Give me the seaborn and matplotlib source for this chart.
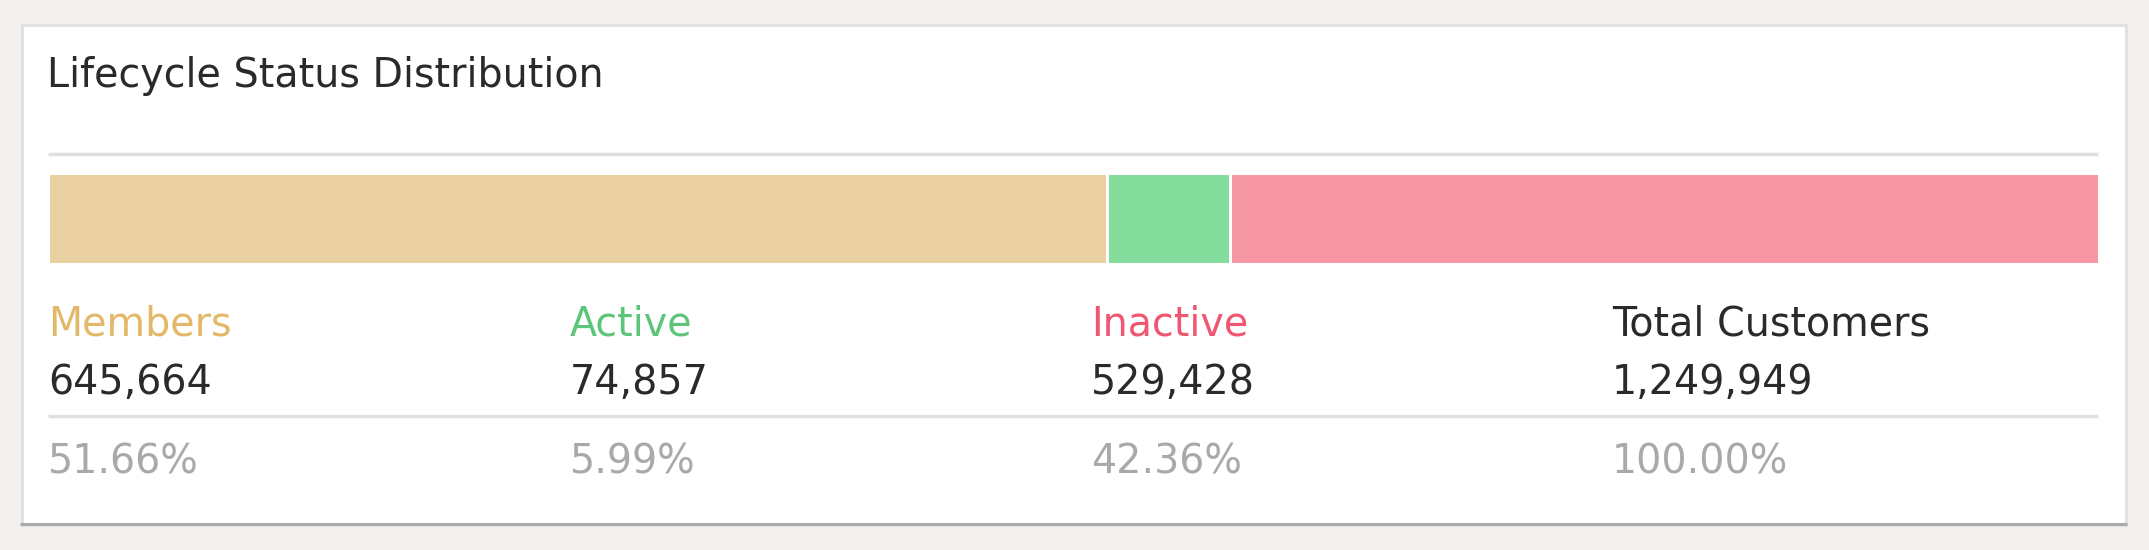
import pandas as pd
import seaborn as sns
import matplotlib.pyplot as plt
from matplotlib.patches import Rectangle

# Data
categories = ['Members', 'Active', 'Inactive']
counts = [645664, 74857, 529428]
bar_colors = ['#ead0a0', '#84dc9c', '#f697a3']
label_colors = ['#e3b868', '#5cc57a', '#ef5671']
total_label = 'Total Customers'
title = 'Lifecycle Status Distribution'

total = sum(counts)
percents = [c / total * 100 for c in counts]

sns.set_theme(style='white')
plt.rcParams['font.family'] = ['DejaVu Sans']

W, H = 2149, 550
fig = plt.figure(figsize=(W / 100, H / 100), dpi=100, facecolor='#f1f0ec')

# background axes in pixel coordinates (card, separators, texts)
bg = fig.add_axes([0, 0, 1, 1])
bg.set_xlim(0, W)
bg.set_ylim(H, 0)
bg.axis('off')

card = Rectangle((21.5, 24.5), 2104, 500, facecolor='white', edgecolor='#e1e1e1', linewidth=2.2)
bg.add_patch(card)
bg.plot([20, 2127], [524.2, 524.2], color='#ababab', linewidth=2.2, solid_capstyle='butt')

bg.plot([48, 2098], [154, 154], color='#e0e0e0', linewidth=2.5, solid_capstyle='butt')
bg.plot([48, 2098], [416, 416], color='#e0e0e0', linewidth=2.5, solid_capstyle='butt')

fs = 28.5
bg.text(47, 87, title, fontsize=fs, color='#2a2a2a', va='baseline', ha='left')

col_x = [48, 570, 1091, 1612]
names = categories + [total_label]
name_colors = label_colors + ['#2a2a2a']
values = counts + [total]
pcts = percents + [100.0]
for x, n, nc, v, p in zip(col_x, names, name_colors, values, pcts):
    bg.text(x, 335, n, fontsize=fs, color=nc, va='baseline', ha='left')
    bg.text(x, 394, f'{v:,}', fontsize=fs, color='#2a2a2a', va='baseline', ha='left')
    bg.text(x, 473, f'{p:.2f}%', fontsize=fs, color='#a9a9a9', va='baseline', ha='left')

# stacked bar: cumulative bars drawn largest first so the smaller ones sit on top
cum = []
run = 0
for c in counts:
    run += c
    cum.append(run)
df = pd.DataFrame({'segment': categories, 'cum': cum, 'row': ['status'] * 3})

ax = fig.add_axes([48 / W, (H - 263.5) / H, (2098.5 - 48) / W, 90.5 / H])
sns.barplot(data=df, x='cum', y='row', hue='segment',
            hue_order=categories[::-1],
            palette=dict(zip(categories, bar_colors)),
            dodge=False, width=1, orient='h', saturation=1,
            edgecolor='white', linewidth=2.2, legend=False, ax=ax)
ax.set_xlim(0, total)
ax.set_ylim(0.5, -0.5)
ax.axis('off')

fig.savefig('out.png', dpi=100, facecolor=fig.get_facecolor())
